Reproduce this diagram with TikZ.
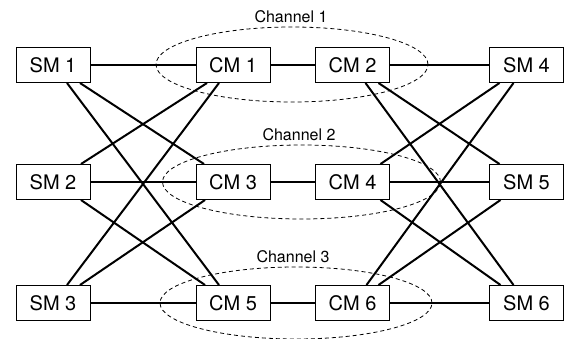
\documentclass[tikz,border=0pt]{standalone}
\usepackage{fontspec}
\setmainfont{TeX Gyre Heros}
\usetikzlibrary{shapes.geometric}
\begin{document}
\begin{tikzpicture}[x=1pt,y=-1pt,
  box/.style={draw, line width=1pt, minimum width=74pt, minimum height=35pt, inner sep=0pt, font=\fontsize{20}{20}\selectfont},
  link/.style={line width=2pt},
  chan/.style={draw, ellipse, dashed, dash pattern=on 4pt off 3pt, line width=0.8pt},
  chlabel/.style={anchor=base, inner sep=0pt, font=\fontsize{16}{16}\selectfont}]
\useasboundingbox (0,0) rectangle (564,339);
% channel ellipses
\node[chan, minimum width=272pt, minimum height=75pt] (ch1) at (292,64.5) {};
\node[chan, minimum width=278pt, minimum height=74pt] (ch2) at (301.5,182) {};
\node[chan, minimum width=272pt, minimum height=72pt] (ch3) at (296,303) {};
\node[chlabel] (l1) at (291,22.5) {Channel 1};
\node[chlabel] (l2) at (299,141) {Channel 2};
\node[chlabel] (l3) at (293,262.5) {Channel 3};
% modules
\node[box] (sm1) at (53,65) {SM 1};
\node[box] (sm2) at (53,182) {SM 2};
\node[box] (sm3) at (53,303) {SM 3};
\node[box] (cm1) at (233,65) {CM 1};
\node[box] (cm3) at (233,182) {CM 3};
\node[box] (cm5) at (233,303) {CM 5};
\node[box] (cm2) at (352.5,65) {CM 2};
\node[box] (cm4) at (352.5,182) {CM 4};
\node[box] (cm6) at (352.5,303) {CM 6};
\node[box] (sm4) at (526.5,65) {SM 4};
\node[box] (sm5) at (526.5,182) {SM 5};
\node[box] (sm6) at (526.5,303) {SM 6};
% horizontal links
\foreach \a/\b in {sm1/cm1,cm1/cm2,cm2/sm4,sm2/cm3,cm3/cm4,cm4/sm5,sm3/cm5,cm5/cm6,cm6/sm6}
  \draw[link] (\a) -- (\b);
% left crossings
\draw[link] ([xshift=27pt]sm1.south) -- ([xshift=-29pt]cm3.north);
\draw[link] ([xshift=14pt]sm1.south) -- ([xshift=-14pt]cm5.north);
\draw[link] ([xshift=-26pt]cm1.south) -- ([xshift=28pt]sm2.north);
\draw[link] ([xshift=-14pt]cm1.south) -- ([xshift=14pt]sm3.north);
\draw[link] ([xshift=28pt]sm2.south) -- ([xshift=-28pt]cm5.north);
\draw[link] ([xshift=-28pt]cm3.south) -- ([xshift=27pt]sm3.north);
% right crossings
\draw[link] ([xshift=13pt]cm2.south) -- ([xshift=-13pt]sm6.north);
\draw[link] ([xshift=26pt]cm2.south) -- ([xshift=-27pt]sm5.north);
\draw[link] ([xshift=-27pt]sm4.south) -- ([xshift=28pt]cm4.north);
\draw[link] ([xshift=-13pt]sm4.south) -- ([xshift=14pt]cm6.north);
\draw[link] ([xshift=28pt]cm4.south) -- ([xshift=-26pt]sm6.north);
\draw[link] ([xshift=-26pt]sm5.south) -- ([xshift=26pt]cm6.north);
\end{tikzpicture}
\end{document}
